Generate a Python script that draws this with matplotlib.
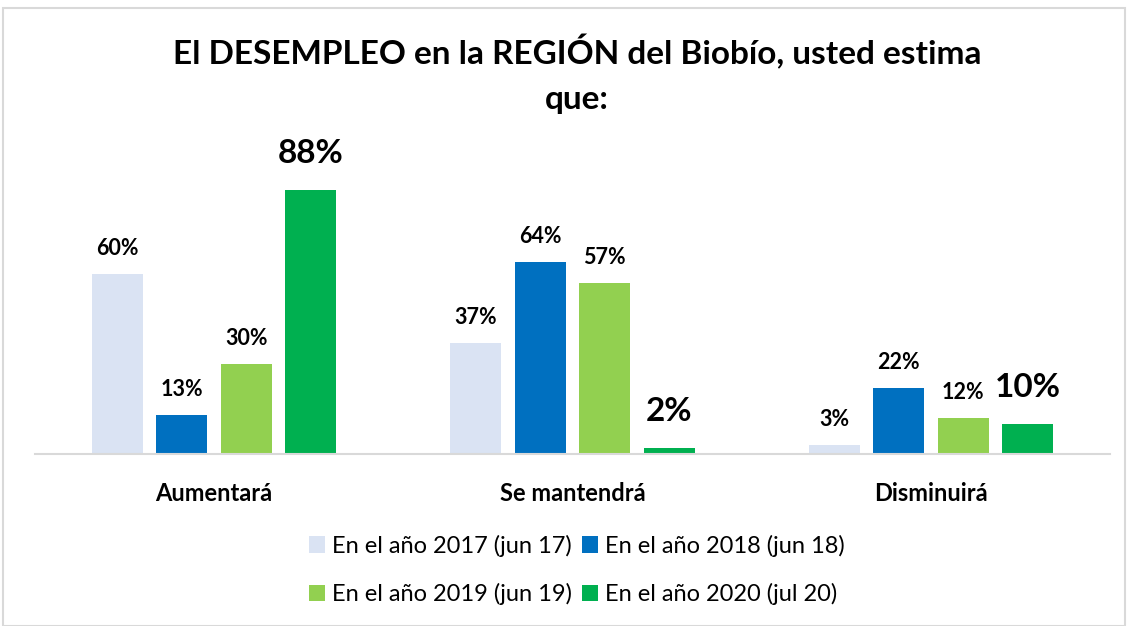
import matplotlib
matplotlib.use("Agg")
import matplotlib.pyplot as plt
import numpy as np
from matplotlib.patches import Rectangle

plt.rcParams['font.family'] = ['Lato', 'DejaVu Sans']

categorias = ["Aumentará", "Se mantendrá", "Disminuirá"]
series = [
    "En el año 2017 (jun 17)",
    "En el año 2018 (jun 18)",
    "En el año 2019 (jun 19)",
    "En el año 2020 (jul 20)",
]
v2017 = [60, 37, 3]
v2018 = [13, 64, 22]
v2019 = [30, 57, 12]
v2020 = [88, 2, 10]
valores = [v2017, v2018, v2019, v2020]
colores = ['#DAE3F3', '#0070C0', '#92D050', '#00B050']

fig = plt.figure(figsize=(11.28, 6.26), dpi=100)
ax = fig.add_axes([35/1128, 1 - 454/626, 1075/1128, 300/626])

x = np.arange(len(categorias))
ancho = 0.142
paso = 0.18

handles = []
for i, (vals, col) in enumerate(zip(valores, colores)):
    pos = x + (i - 1.5) * paso
    b = ax.bar(pos, vals, ancho, color=col, label=series[i])
    handles.append(b)
    grande = (i == 3)
    for p, v in zip(pos, vals):
        ax.annotate(f"{v}%", (p, v), xytext=(0, 16 if grande else 11),
                    textcoords='offset points', ha='center', va='bottom',
                    fontsize=24 if grande else 15.5, fontweight='bold', color='#000000')

ax.set_xlim(-0.5, 2.5)
ax.set_ylim(0, 100)
ax.set_xticks(x)
ax.set_xticklabels(categorias, fontsize=17, fontweight='bold')
ax.tick_params(axis='x', length=0, pad=20)
ax.set_yticks([])
for s in ['top', 'right', 'left']:
    ax.spines[s].set_visible(False)
ax.spines['bottom'].set_color('#D9D9D9')
ax.spines['bottom'].set_linewidth(1.5)

fig.text(577/1128, 1 - 52/626, "El DESEMPLEO en la REGIÓN del Biobío, usted estima",
         ha='center', va='center', fontsize=24, fontweight='bold')
fig.text(577/1128, 1 - 100/626, "que:", ha='center', va='center', fontsize=24, fontweight='bold')

# matplotlib fills legend columns first, so reorder to get 2017/2018 on the first row
orden = [0, 2, 1, 3]
fig.legend(handles=[handles[k] for k in orden], labels=[series[k] for k in orden],
           ncol=2, loc='center',
           bbox_to_anchor=(577/1128, 1 - 570/626), frameon=False, fontsize=17,
           handlelength=0.7, handleheight=0.7, handletextpad=0.3, columnspacing=0.4,
           labelspacing=1.1)

fig.patches.append(Rectangle((3/1128, 0), 1122/1128, 1 - 8/626, transform=fig.transFigure,
                             fill=False, edgecolor='#D9D9D9', linewidth=1.5))

fig.savefig("out.png", dpi=100)
